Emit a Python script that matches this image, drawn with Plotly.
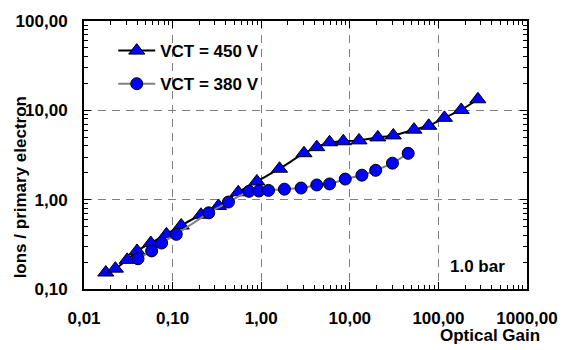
import plotly.graph_objects as go

# VCT = 450 V (triangles)
gain_450 = [0.0176, 0.0226, 0.0307, 0.0397, 0.0567, 0.0853, 0.125, 0.209, 0.330, 0.551,
            0.894, 1.61, 3.04, 4.24, 5.91, 8.45, 12.7, 20.7, 31.0, 53.0, 77.8, 117, 181, 279]
ions_450 = [0.153, 0.169, 0.212, 0.267, 0.327, 0.409, 0.514, 0.678, 0.851, 1.21,
            1.60, 2.22, 3.31, 3.87, 4.39, 4.50, 4.61, 4.98, 5.24, 6.08, 6.72, 8.25, 10.1, 13.3]

# VCT = 380 V (circles)
gain_380 = [0.0407, 0.058, 0.0751, 0.110, 0.256, 0.427, 0.729, 0.94, 1.21, 1.83,
            2.82, 4.24, 5.91, 8.89, 13.7, 19.6, 30.3, 45.6]
ions_380 = [0.218, 0.267, 0.327, 0.409, 0.713, 0.941, 1.24, 1.25, 1.27, 1.31,
            1.35, 1.46, 1.50, 1.70, 1.88, 2.13, 2.56, 3.30]

x_ticks = [0.01, 0.1, 1, 10, 100, 1000]
y_ticks = [0.1, 1, 10, 100]

FONT = "Liberation Sans, Arial, sans-serif"
FS = 17

fig = go.Figure()
fig.add_trace(go.Scatter(
    x=gain_450, y=ions_450, name="VCT = 450 V", mode="lines+markers",
    line=dict(color="black", width=2, shape="spline", smoothing=0.5),
    marker=dict(symbol="triangle-up", size=14, color="#0000FF",
                line=dict(color="black", width=1)),
    legendgroup="a"))
fig.add_trace(go.Scatter(
    x=gain_380, y=ions_380, name="VCT = 380 V", mode="lines+markers",
    line=dict(color="#808080", width=2, shape="spline", smoothing=0.5),
    marker=dict(symbol="circle", size=12, color="#0000FF",
                line=dict(color="black", width=1)),
    legendgroup="b"))

axis_common = dict(
    showline=True, linecolor="black", linewidth=2, mirror="allticks",
    ticks="inside", ticklen=7, tickcolor="black", tickwidth=1,
    showgrid=True, gridcolor="#808080", gridwidth=1, griddash="8px,6px",
    zeroline=False, tickformat=".2f",
    tickfont=dict(family=FONT, size=FS, color="black", weight="bold"),
    minor=dict(ticks="inside", ticklen=4, tickcolor="black", tickwidth=1,
               showgrid=False, dtick="D1"),
)

fig.update_xaxes(type="log", range=[-2, 3], tickvals=x_ticks,
                 ticklabelstandoff=13, **axis_common)
fig.update_yaxes(type="log", range=[-1, 2], tickvals=y_ticks,
                 ticklabelstandoff=11, **axis_common)

fig.update_layout(
    width=570, height=350,
    margin=dict(l=84, r=35, t=15, b=61),
    paper_bgcolor="white", plot_bgcolor="white",
    separators=",.",
    showlegend=True,
    legend=dict(x=0.066, y=0.955, xanchor="left", yanchor="top",
                bgcolor="rgba(0,0,0,0)", tracegroupgap=8, itemwidth=37,
                entrywidth=170, entrywidthmode="pixels",
                font=dict(family=FONT, size=FS, color="black", weight="bold")),
    annotations=[
        dict(text="1.0 bar", xref="paper", yref="paper", x=0.889, y=0.084,
             showarrow=False, xanchor="center", yanchor="middle",
             font=dict(family=FONT, size=FS, color="black", weight="bold")),
        dict(text="Optical Gain", xref="paper", yref="paper", x=0.916, y=-0.175,
             showarrow=False, xanchor="center", yanchor="middle",
             font=dict(family=FONT, size=FS, color="black", weight="bold")),
        dict(text="Ions / primary electron", xref="paper", yref="paper",
             x=-0.144, y=0.38, textangle=-90,
             showarrow=False, xanchor="center", yanchor="middle",
             font=dict(family=FONT, size=FS, color="black", weight="bold")),
    ],
)

fig.write_html("out.html")
